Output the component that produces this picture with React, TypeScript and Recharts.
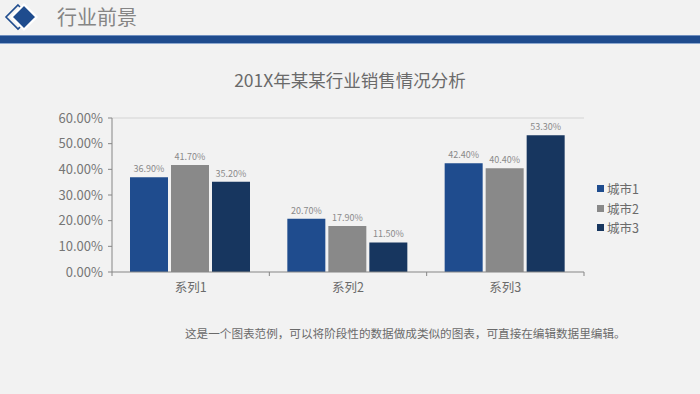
import React from 'react';
import { BarChart, Bar, XAxis, YAxis, LabelList, ReferenceLine } from 'recharts';

const categories = ['系列1', '系列2', '系列3'];
const seriesNames = ['城市1', '城市2', '城市3'];
const city1 = [36.9, 20.7, 42.4];
const city2 = [41.7, 17.9, 40.4];
const city3 = [35.2, 11.5, 53.3];
const yTicks = [0, 10, 20, 30, 40, 50, 60];
const colors = ['#1f4c8e', '#898989', '#17365f'];
const headerTitle = '行业前景';
const chartTitle = '201X年某某行业销售情况分析';
const footerText = '这是一个图表范例，可以将阶段性的数据做成类似的图表，可直接在编辑数据里编辑。';

const data = categories.map((c, i) => ({ name: c, s1: city1[i], s2: city2[i], s3: city3[i] }));
const keys = ['s1', 's2', 's3'];

const FONT = "'Noto Sans CJK SC', 'Noto Sans', sans-serif";
const pct = (v: number) => `${Number(v).toFixed(2)}%`;

const XTick = (props: any) => {
  const { x, y, payload, index, width, visibleTicksCount } = props;
  const band = width / visibleTicksCount;
  const left = x - band / 2;
  const right = x + band / 2;
  return (
    <g>
      <line x1={left} y1={y - 8} x2={left} y2={y - 4} stroke="#868686" />
      {index === visibleTicksCount - 1 && (
        <line x1={right} y1={y - 8} x2={right} y2={y - 4} stroke="#868686" />
      )}
      <text x={x} y={y + 12} textAnchor="middle" fill="#6a6a6a" fontSize={12.5} fontFamily={FONT}>
        {payload.value}
      </text>
    </g>
  );
};

export default function App() {
  return (
    <div style={{ position: 'fixed', left: 0, top: 0, width: 700, height: 394, background: '#f2f2f2', overflow: 'hidden', fontFamily: FONT }}>
      <svg width={700} height={50} style={{ position: 'absolute', left: 0, top: 0 }}>
        <polygon points="18,5 30,17 18,29 6,17" fill="none" stroke="#1f4c8e" strokeWidth={1.6} />
        <polygon points="24,4.5 36.5,17 24,29.5 11.5,17" fill="#1f4c8e" stroke="#ffffff" strokeWidth={2.2} />
        <rect x={0} y={35} width={700} height={9} fill="#1f4c8e" />
        <rect x={0} y={35} width={700} height={1} fill="#6f8fbf" />
        <rect x={0} y={43} width={700} height={1} fill="#8ea9d0" />
      </svg>
      <div style={{ position: 'absolute', left: 57, top: 4, fontSize: 20, color: '#858585', lineHeight: '26px' }}>{headerTitle}</div>
      <div style={{ position: 'absolute', left: 0, width: 700, top: 68, textAlign: 'center', fontSize: 17.5, color: '#6a6a6a', lineHeight: '24px' }}>{chartTitle}</div>
      <div style={{ position: 'absolute', left: 0, top: 0 }}>
        <BarChart width={700} height={394} data={data} margin={{ top: 118, right: 116, bottom: 122 - 30, left: 52 }} barCategoryGap={18} barGap={3}>
          <XAxis dataKey="name" axisLine={{ stroke: '#868686' }} tickLine={false} tick={<XTick />} height={30} interval={0} />
          <YAxis width={60} domain={[0, 60]} ticks={yTicks} tickFormatter={pct} axisLine={{ stroke: '#868686' }} tickLine={{ stroke: '#868686' }} tickSize={4} tickMargin={5} tick={{ fill: '#767676', fontSize: 13, fontFamily: FONT }} interval={0} />
          <YAxis yAxisId="r" orientation="right" width={0} domain={[0, 60]} tick={false} tickLine={false} axisLine={{ stroke: '#d4d4d4' }} />
          <ReferenceLine y={60} stroke="#d4d4d4" />
          {keys.map((k, i) => (
            <Bar key={k} dataKey={k} name={seriesNames[i]} fill={colors[i]} isAnimationActive={false}>
              <LabelList dataKey={k} position="top" offset={5} formatter={(v: any) => pct(v)} fill="#8a8a8a" fontSize={9} fontFamily={FONT} />
            </Bar>
          ))}
        </BarChart>
      </div>
      <div style={{ position: 'absolute', left: 597, top: 179 }}>
        {seriesNames.map((n, i) => (
          <div key={n} style={{ display: 'flex', alignItems: 'center', height: 19.5, fontSize: 12.5, color: '#6a6a6a' }}>
            <span style={{ display: 'inline-block', width: 7, height: 7, background: colors[i], marginRight: 3 }} />
            <span>{n}</span>
          </div>
        ))}
      </div>
      <div style={{ position: 'absolute', left: 185, top: 324, fontSize: 11.6, color: '#6a6a6a', lineHeight: '18px', whiteSpace: 'nowrap' }}>{footerText}</div>
    </div>
  );
}
